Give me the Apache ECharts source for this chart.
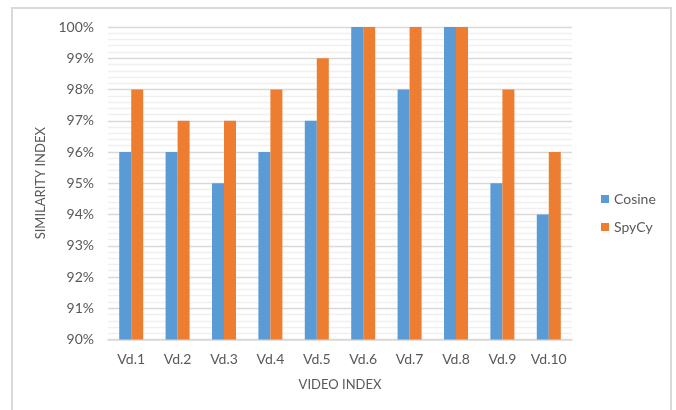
<!DOCTYPE html>
<html>
<head>
<meta charset="utf-8">
<script src="https://cdn.jsdelivr.net/npm/echarts@6/dist/echarts.min.js"></script>
<style>
html,body{margin:0;padding:0;background:#fff;}
#frame{position:absolute;left:11px;top:7px;width:661px;height:410px;border:2px solid #d9d9d9;box-sizing:border-box;border-bottom:none;}
#c{position:absolute;left:0;top:0;width:676px;height:410px;}
</style>
</head>
<body>
<div id="frame"></div>
<div id="c"></div>
<script>
const categories = ['Vd.1','Vd.2','Vd.3','Vd.4','Vd.5','Vd.6','Vd.7','Vd.8','Vd.9','Vd.10'];
const cosine = [96, 96, 95, 96, 97, 100, 98, 100, 95, 94];
const spycy  = [98, 97, 97, 98, 99, 100, 100, 100, 98, 96];
const yMin = 90, yMax = 100, yStep = 1;
const xTitle = 'VIDEO INDEX';
const yTitle = 'SIMILARITY INDEX';

const font = 'Lato, "Open Sans", sans-serif';
const chart = echarts.init(document.getElementById('c'), null, {renderer:'canvas'});
chart.setOption({
  animation:false,
  textStyle:{fontFamily:font, color:'#595959'},
  grid:{left:108, right:104, top:27, bottom:70.5, containLabel:false},
  legend:{
    orient:'vertical', left:596, top:187, itemWidth:8, itemHeight:8, itemGap:14,
    icon:'rect',
    textStyle:{fontFamily:font, fontSize:14, color:'#595959'},
    data:['Cosine','SpyCy']
  },
  xAxis:{
    type:'category', data:categories,
    axisLine:{lineStyle:{color:'#d9d9d9', width:1.5}},
    axisTick:{show:false},
    axisLabel:{fontSize:14, color:'#595959', margin:13, fontFamily:font, interval:0, hideOverlap:false},
    name:xTitle, nameLocation:'middle', nameGap:39,
    nameTextStyle:{fontSize:13, color:'#595959', fontFamily:font}
  },
  yAxis:{
    type:'value', min:yMin, max:yMax, interval:yStep,
    axisLine:{show:false}, axisTick:{show:false},
    axisLabel:{fontSize:14, color:'#595959', margin:14, fontFamily:font, formatter:v=>v+'%'},
    splitLine:{lineStyle:{color:'#d9d9d9', width:1.3}},
    minorTick:{show:false, splitNumber:5},
    minorSplitLine:{show:true, lineStyle:{color:'#f0f0f0', width:1.3}},
    name:yTitle, nameLocation:'middle', nameGap:56, nameRotate:90,
    nameTextStyle:{fontSize:13, color:'#595959', fontFamily:font}
  },
  series:[
    {name:'Cosine', type:'bar', data:cosine, barWidth:12, barGap:'0%', itemStyle:{color:'#5B9BD5'}},
    {name:'SpyCy', type:'bar', data:spycy, barWidth:12, barGap:'0%', itemStyle:{color:'#ED7D31'}}
  ]
});
</script>
</body>
</html>
